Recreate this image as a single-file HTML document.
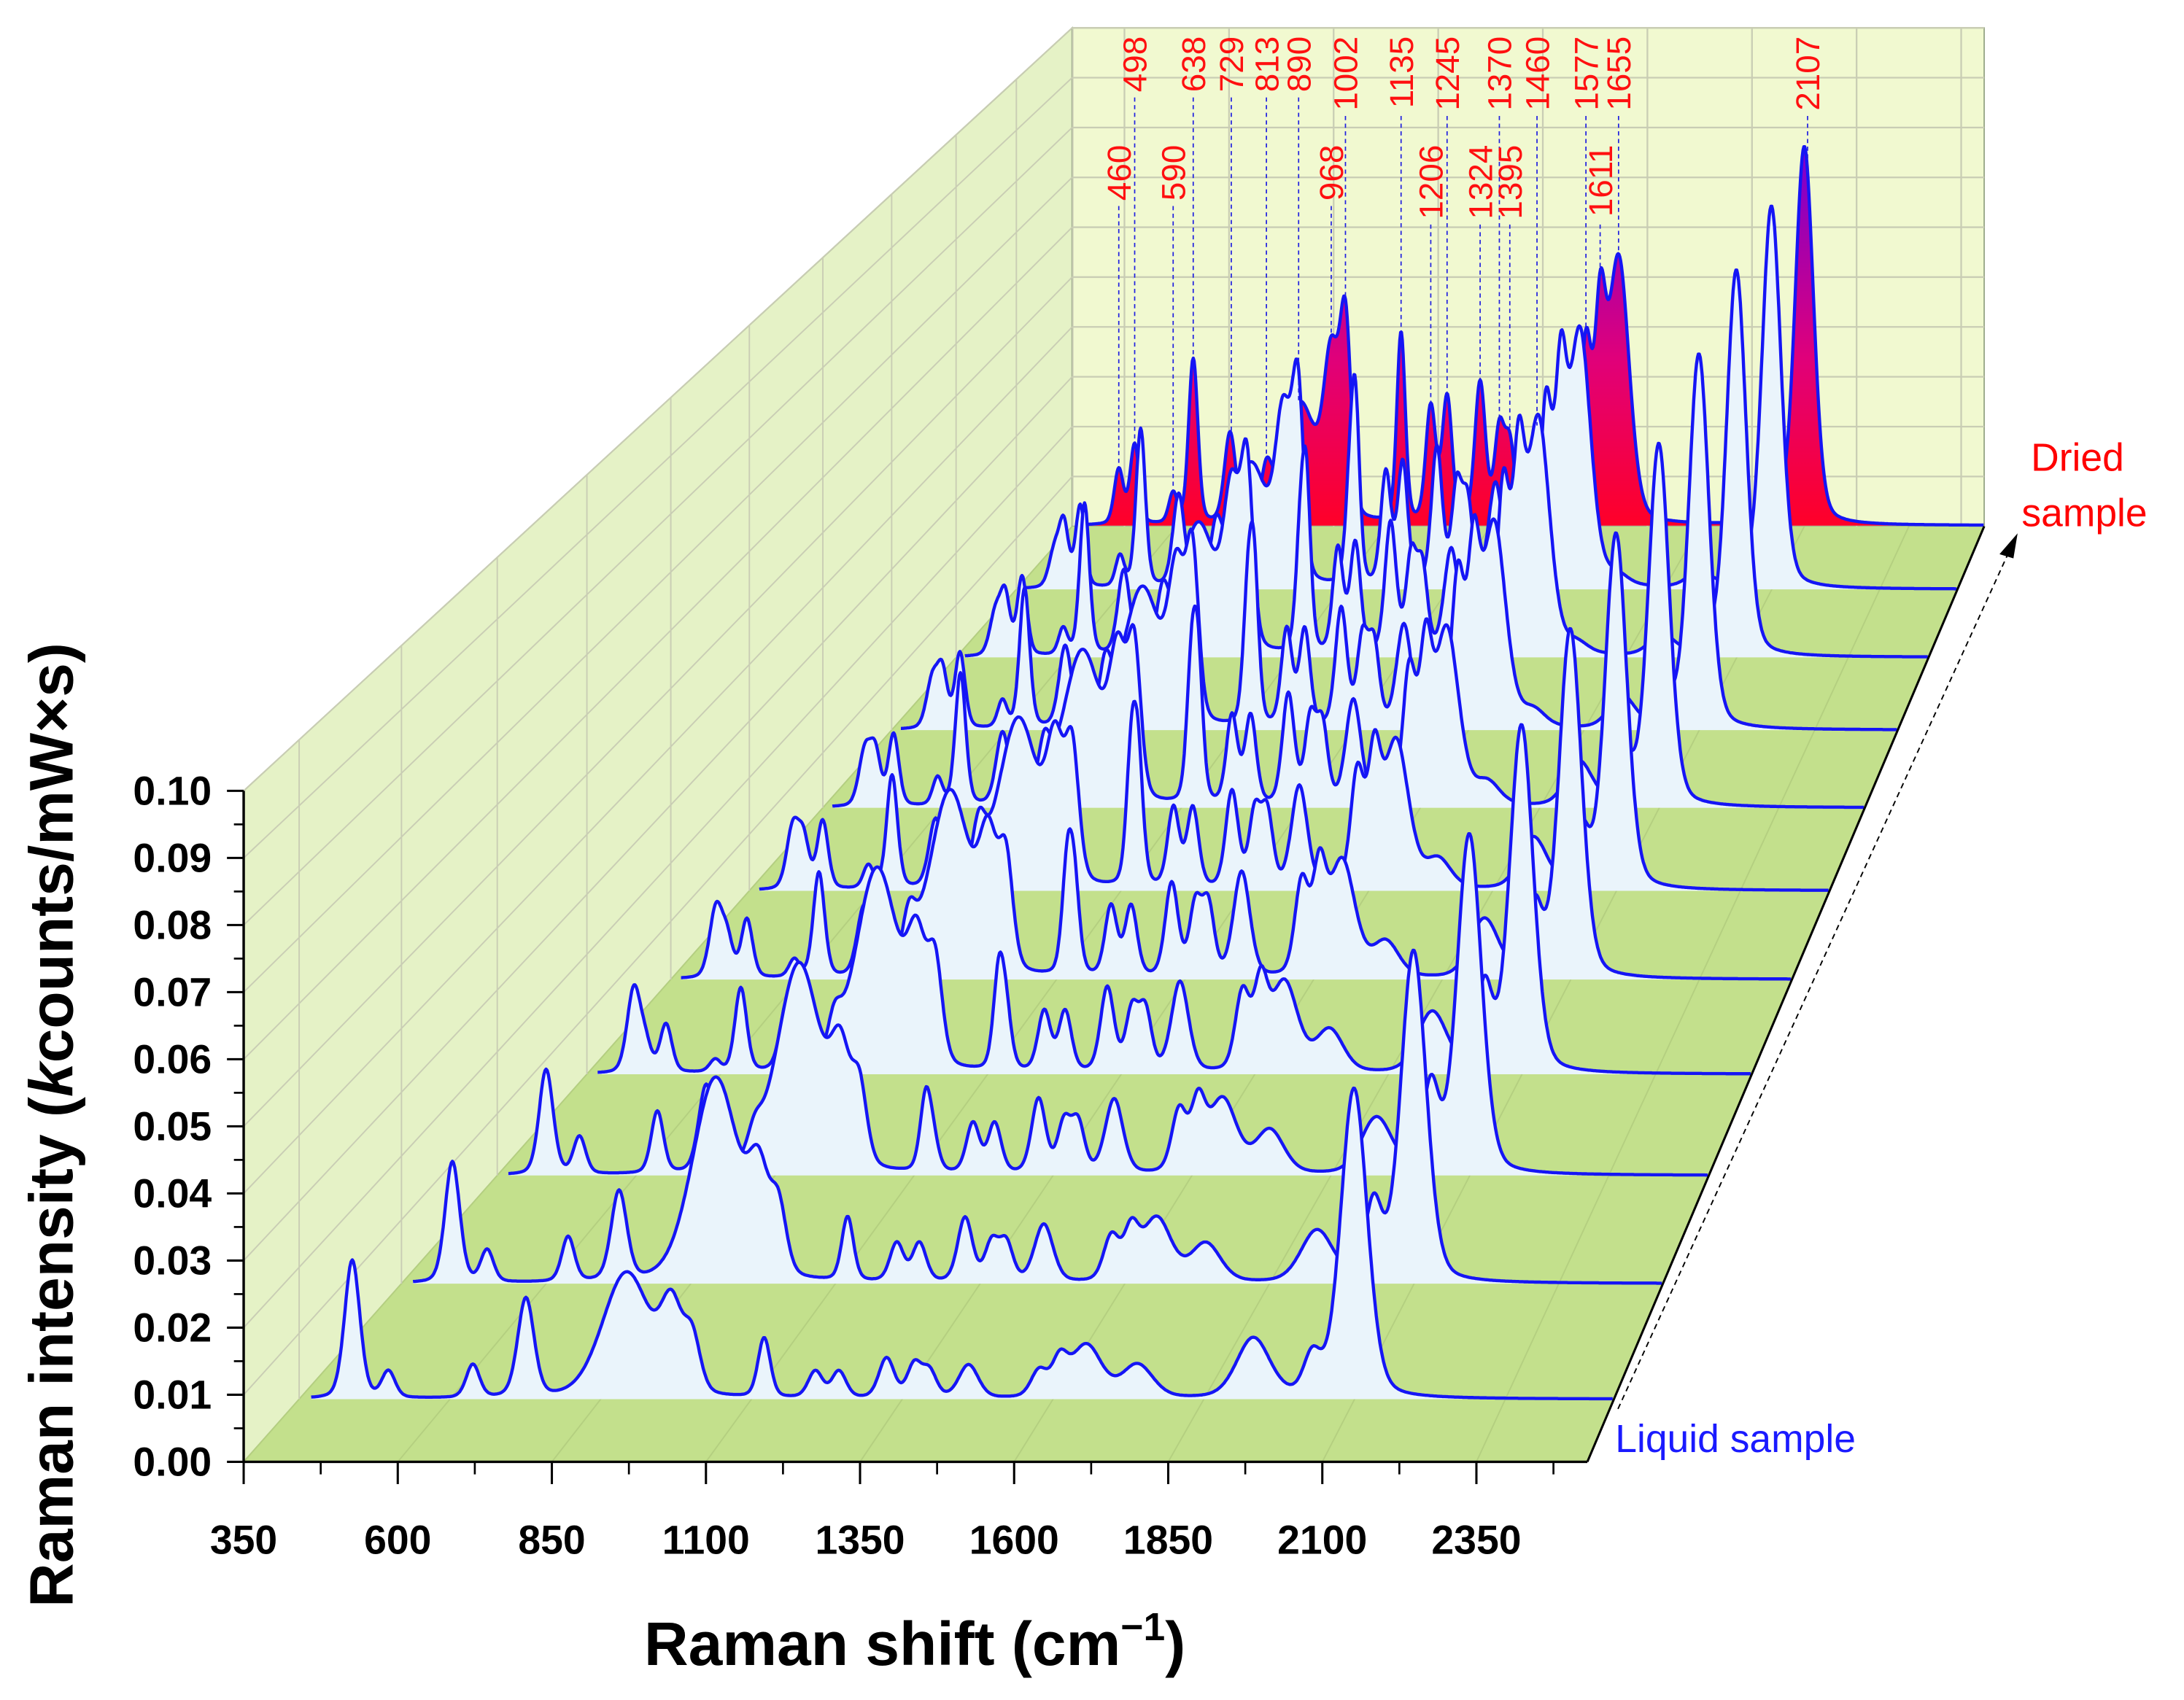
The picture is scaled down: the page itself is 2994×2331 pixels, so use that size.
<!DOCTYPE html>
<html><head><meta charset="utf-8"><style>
html,body{margin:0;padding:0;background:#fff}
svg{display:block}
text{font-family:"Liberation Sans",Arial,sans-serif}
</style></head><body>
<svg id="chart" width="2994" height="2331" viewBox="0 0 1568.5 1221" xmlns="http://www.w3.org/2000/svg">
<defs>
<linearGradient id="driedGrad" gradientUnits="userSpaceOnUse" x1="0" y1="378" x2="0" y2="110">
<stop offset="0" stop-color="#ff0028"/><stop offset="0.45" stop-color="#e0007a"/><stop offset="1" stop-color="#7a00d0"/>
</linearGradient>
</defs>
<polygon points="175,1050 175,568 770,20 770,378" fill="#e5f2c6" stroke="#9aa88a" stroke-width="1"/>
<polygon points="770,20 1425,20 1425,378 770,378" fill="#f1f9d0" stroke="#9aa88a" stroke-width="1"/>
<polygon points="175,1050 1140,1050 1425,378 770,378" fill="#c3e08c"/>
<g id="grid"></g>
<g id="spectra"></g>
<g id="labels"></g>
<g id="axes"></g>
<line x1="1140" y1="1050" x2="1425" y2="378" stroke="#000" stroke-width="1.6"/>
<line x1="1162" y1="1012" x2="1442" y2="398" stroke="#000" stroke-width="1" stroke-dasharray="4,3"/>
<polygon points="1449,383 1436,398 1446,401" fill="#000"/>
<text x="1492" y="338" font-size="28" fill="#ff0000" text-anchor="middle">Dried</text>
<text x="1497" y="378" font-size="28" fill="#ff0000" text-anchor="middle">sample</text>
<text x="1160" y="1043" font-size="28" fill="#1a1aff">Liquid sample</text>
<text x="657" y="1196" font-size="44" font-weight="bold" text-anchor="middle">Raman shift (cm<tspan font-size="28" dy="-18">−1</tspan><tspan dy="18">)</tspan></text>
<text transform="translate(52,808) rotate(-90)" font-size="44" font-weight="bold" text-anchor="middle">Raman intensity (<tspan font-style="italic">k</tspan>counts/mW×s)</text>
</svg>
<script>
// ---- data ----
const peakPositions = [438,460,498,590,638,726,813,893,968,1002,1121,1135,1206,1245,1324,1370,1395,1460,1577,1611,1655,1740,1932,2030,2099];
const peakWidths    = [30, 26, 26, 24, 26, 32, 30, 95, 42, 32, 24, 24, 28, 28, 30, 28, 28, 38, 32, 30, 60, 60, 65, 34, 52];
const row0  = [.021,0,.004,0,.005,.015,0,.019,.012,.008,.009,0,.004,.004,.006,.005,.004,.005,.004,.005,.008,.005,.009,.006,.047];
const row1  = [.019,0,.005,0,.007,.014,0,.032,.014,.010,.010,0,.006,.006,.010,.006,.006,.009,.007,.007,.010,.006,.008,.012,.052];
const row2  = [.017,0,.006,0,.010,.014,.004,.034,.016,.012,.012,.004,.008,.008,.012,.008,.008,.012,.010,.010,.012,.007,.009,.014,.055];
const row3  = [.014,.004,.008,.002,.014,.012,.006,.034,.018,.016,.016,.008,.010,.010,.014,.010,.010,.015,.013,.013,.015,.007,.010,.014,.058];
const row4  = [.012,.006,.010,.003,.018,.012,.008,.032,.020,.018,.018,.014,.012,.012,.016,.012,.012,.018,.016,.016,.020,.006,.010,.012,.060];
const row5  = [.011,.008,.012,.004,.020,.012,.009,.030,.022,.022,.022,.020,.014,.014,.017,.013,.013,.018,.020,.020,.026,.005,.009,.010,.063];
const row6  = [.010,.009,.013,.005,.024,.013,.009,.028,.024,.026,.022,.024,.016,.016,.020,.015,.014,.019,.024,.024,.032,.004,.008,.008,.066];
const row7  = [.009,.010,.014,.005,.026,.015,.010,.026,.026,.030,.020,.028,.018,.018,.022,.016,.015,.019,.028,.028,.038,.003,.006,.005,.070];
const row8  = [.008,.011,.015,.005,.029,.016,.010,.025,.028,.034,.018,.031,.020,.021,.025,.018,.016,.020,.032,.032,.045,.002,.004,.003,.074];
const row9  = [.007,.012,.016,.006,.031,.018,.010,.024,.030,.037,.014,.035,.022,.024,.027,.019,.016,.020,.035,.035,.050,.002,.003,.002,.075];
const row10 = [0,.011,.016,.006,.033,.018,.009,.024,.030,.038,0,.038,.023,.025,.028,.018,.015,.019,.035,.035,.053,0,0,0,.076];
const rows = [row0,row1,row2,row3,row4,row5,row6,row7,row8,row9,row10];
const driedLabels = [460,498,590,638,729,813,890,968,1002,1135,1206,1245,1324,1370,1395,1460,1577,1611,1655,2107];
const driedLabelTier = [1,0,1,0,0,0,0,1,0,0,1,0,1,0,1,0,0,1,0,0];
const xTicks = [350,600,850,1100,1350,1600,1850,2100,2350];
const yTicks = [0.00,0.01,0.02,0.03,0.04,0.05,0.06,0.07,0.08,0.09,0.10];

// ---- geometry ----
const NS="http://www.w3.org/2000/svg";
const X0=350, XSPAN=2180;
function depth(i){const r=0.936;return 45+83*(1-Math.pow(r,i))/(1-r);}
function rowGeom(d){const f=d/672;const left=175+d*0.8854,right=1140+d*0.4241;
 return {yb:1050-d,left,ppc:(right-left)/XSPAN,hs:4820*(1-0.257*f)};}
function xAt(g,cm){return g.left+(cm-X0)*g.ppc;}
function mk(tag,attrs,parent){const e=document.createElementNS(NS,tag);for(const k in attrs)e.setAttribute(k,attrs[k]);parent.appendChild(e);return e;}
function intensity(vals,cm){let s=0;for(let k=0;k<peakPositions.length;k++){const h=vals[k];if(!h)continue;
 const dx=(cm-peakPositions[k])/(peakWidths[k]/2);s+=h*(0.75*Math.exp(-0.693*dx*dx)+0.25/(1+dx*dx));}return s;}

const grid=document.getElementById('grid');
const FRONT={yb:1050,left:175,ppc:965/XSPAN,hs:4820}, BACK={yb:378,left:770,ppc:655/XSPAN,hs:3581};
yTicks.forEach((v,i)=>{if(i===0)return;
 const yb=378-v*BACK.hs;
 const l=mk('line',{x1:770,y1:yb,x2:1425,y2:yb,stroke:'#c9cdb4','stroke-width':1.2},grid);
 
 
 const s=mk('line',{x1:175,y1:1050-v*FRONT.hs,x2:770,y2:yb,stroke:'#c9cdb4','stroke-width':1},grid);
 
 
});
xTicks.forEach(t=>{
 const xb=xAt(BACK,t+125);
 const l=mk('line',{x1:xb,y1:20,x2:xb,y2:378,stroke:'#c9cdb4','stroke-width':1.2},grid);
 
 
 const f=mk('line',{x1:xAt(FRONT,t),y1:1050,x2:xAt(BACK,t),y2:378,stroke:'#b4cf80','stroke-width':1},grid);
 
 
});
for(let i=0;i<rows.length;i++){const d=depth(i);const x=175+d*0.8854;
 const ln=mk('line',{x1:x,y1:1050-d,x2:x,y2:(1050-d)-482*(1-0.257*d/672),stroke:'#c9cdb4','stroke-width':1},grid);
 
 
}

const sp=document.getElementById('spectra');
for(let i=rows.length-1;i>=0;i--){
 const g=rowGeom(depth(i));const vals=rows[i];
 let pts=[];for(let cm=370;cm<=2528;cm+=2){pts.push([xAt(g,cm),g.yb-intensity(vals,cm)*g.hs]);}
 const line=pts.map(p=>p[0].toFixed(1)+','+p[1].toFixed(1)).join(' ');
 const area=mk('polygon',{points:pts[0][0].toFixed(1)+','+g.yb+' '+line+' '+pts[pts.length-1][0].toFixed(1)+','+g.yb,fill:i===10?'url(#driedGrad)':'#eaf4fb'},sp);
 
 
 const pl=mk('polyline',{points:line,fill:'none',stroke:'#1515f5','stroke-width':2.3,'stroke-linejoin':'round'},sp);
 
 
}

const lb=document.getElementById('labels');const gb=rowGeom(depth(10));
driedLabels.forEach((cm,k)=>{
 const x=xAt(gb,cm);const tier=driedLabelTier[k];
 const txt=String(cm);const endY=tier?104:26;const len=txt.length*13.3;
 const top=gb.yb-intensity(row10,cm)*gb.hs;
 const dl=mk('line',{x1:x,y1:endY+len+4,x2:x,y2:top,stroke:'#2020e0','stroke-width':0.9,'stroke-dasharray':'3,2.5'},lb);
 
 
 const t=mk('text',{transform:`translate(${x+8.5},${endY}) rotate(-90)`,'font-size':24,fill:'#ff1010','text-anchor':'end'},lb);
 t.textContent=txt;
 
 
});

const ax=document.getElementById('axes');
let a=mk('line',{x1:175,y1:1050,x2:1140,y2:1050,stroke:'#000','stroke-width':1.8},ax);


a=mk('line',{x1:175,y1:568,x2:175,y2:1050,stroke:'#000','stroke-width':1.8},ax);


xTicks.forEach(t=>{const x=xAt(FRONT,t);
 const tk=mk('line',{x1:x,y1:1050,x2:x,y2:1066,stroke:'#000','stroke-width':1.6},ax);
 
 
 const xm=xAt(FRONT,t+125);
 const mt=mk('line',{x1:xm,y1:1050,x2:xm,y2:1059,stroke:'#000','stroke-width':1.4},ax);
 
 
 const tx=mk('text',{x:x,y:1116,'font-size':29,'font-weight':'bold','text-anchor':'middle'},ax);
 tx.textContent=t;
 
 
});
yTicks.forEach((v,i)=>{const y=1050-v*FRONT.hs;
 const tk=mk('line',{x1:175,y1:y,x2:163,y2:y,stroke:'#000','stroke-width':1.6},ax);
 
 
 if(i<yTicks.length-1){const ym=y-0.005*FRONT.hs;
  const mt=mk('line',{x1:175,y1:ym,x2:168,y2:ym,stroke:'#000','stroke-width':1.4},ax);
  
  }
 const tx=mk('text',{x:152,y:y+10,'font-size':29,'font-weight':'bold','text-anchor':'end'},ax);
 tx.textContent=v.toFixed(2);
 
 
});
</script>
</body></html>
